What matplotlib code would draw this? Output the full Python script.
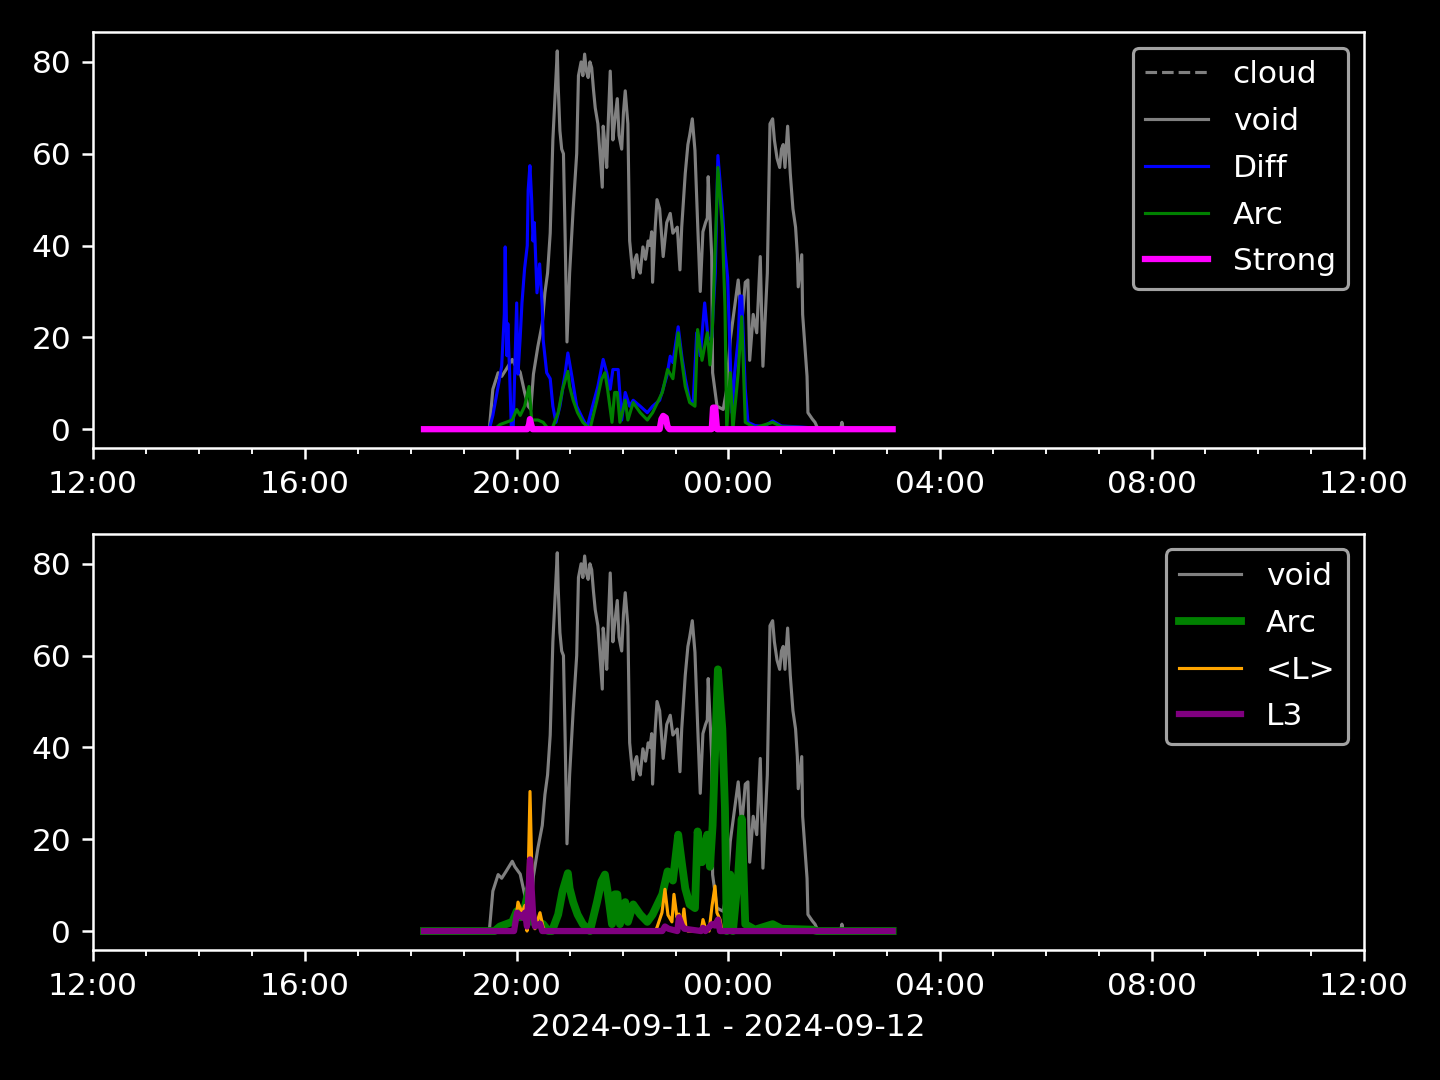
import numpy as np
import pandas as pd
import matplotlib
matplotlib.use('Agg')
import matplotlib.pyplot as plt
import matplotlib.dates as mdates

plt.style.use('dark_background')

t0 = pd.Timestamp('2024-09-11 18:00')
xstart = pd.Timestamp('2024-09-11 12:00')
xend = pd.Timestamp('2024-09-12 12:00')

# all times are minutes after 2024-09-11 18:00
void_t = [15, 89, 93, 99, 103, 108, 115, 118, 124, 129, 133, 136, 139, 144, 149, 152, 155, 158,
          161, 166, 167, 169, 171, 173, 175, 177, 180, 184, 188, 190, 193, 195, 197, 199, 201, 203,
          205, 207, 209, 212, 214, 217, 218, 220, 222, 224, 226, 229, 231, 234, 236, 239, 241, 243,
          246, 248, 252, 254, 256, 258, 260, 263, 266, 269, 271, 273, 274, 277, 279, 282, 286, 290,
          294, 297, 302, 305, 307, 311, 314, 316, 319, 322, 325, 328, 331, 334, 336, 337, 341,
          342, 347, 354, 358, 362, 367, 371, 375, 379, 382, 384, 388, 392, 396, 399, 404, 407,
          410, 412, 415, 418, 420, 422, 424, 427, 430, 433, 436, 438, 439, 443, 444, 449, 450,
          455, 458, 461, 487, 488.5, 490, 546]
void_v = [0, 0, 8.7, 12.3, 11.5, 13, 15.2, 14, 12.4, 8, 5, 4.3, 12, 18, 23, 29.7, 34, 42.7,
          63, 82.4, 75, 65, 61, 60, 41, 19, 34, 48, 60, 77, 80, 77, 81.7, 78, 76.6, 80,
          78.7, 74, 70, 66.5, 61, 52.7, 66, 62, 57, 68, 78, 63, 67, 72, 64, 61, 69, 73.7,
          66.5, 41, 33, 37, 38, 35, 34, 39.7, 37, 41, 40, 43, 32, 44, 50, 48, 37.6, 45,
          47, 42.7, 44, 34.7, 44, 55.7, 62, 64, 67.6, 60.7, 45, 30, 43, 45, 46, 55, 37.6,
          12.3, 5, 4.3, 8.7, 19.5, 26.7, 32.5, 23, 32, 32.5, 15, 25, 21, 37.6, 13.7, 34, 66.5,
          67.6, 63, 59, 57, 61, 62, 57, 66, 55.7, 48, 44, 38, 31, 38, 25, 11.5, 3.6,
          2.2, 1.5, 0.2, 0, 1.5, 0, 0]

diff_t = [15, 89, 93, 99, 103, 106, 107, 109, 110, 112, 114, 116, 120, 121.5, 124, 126, 127,
          129, 132, 133, 135, 137, 138.5, 140, 143, 146, 149, 150, 154, 158, 161, 164.5, 169,
          175, 178, 183, 188, 195, 200, 206, 212, 218, 222, 226, 229, 235, 239, 243, 248, 252,
          260, 268, 274, 282, 290, 294, 297, 303, 307, 311, 316, 320, 324, 328, 333, 337, 341,
          345, 348, 353, 356, 359, 364, 367, 371, 373, 375, 379, 382, 390, 400, 410, 420, 440,
          454, 460, 546]
diff_v = [0, 0, 3, 9.3, 13.7, 25, 39.7, 16, 23, 12.3, 0, 0, 27.5, 12, 20, 27.5, 30,
          35, 40, 52, 57.4, 50, 41, 45, 29.7, 36, 26.7, 19.5, 12.3, 11, 5, 1.5, 5,
          12.3, 16.6, 11, 5, 2.2, 0.5, 5, 9.3, 15.2, 12.3, 8.7, 13, 13, 2, 8, 5, 6.3,
          5, 3.6, 5, 6.3, 11.5, 15.9, 14.5, 22.3, 16, 11, 6.3, 5.8, 21, 16, 27.5, 19.5, 20,
          34, 59.6, 48, 39, 33, 3.6, 12.3, 19.5, 29, 29, 8.7, 1.5, 0.8, 0.6, 1.8, 0.7, 0.5,
          0.3, 0, 0]

arc_t = [15, 95, 101, 115, 120, 124, 129, 134, 137, 144, 150, 156, 160, 167, 172, 178, 180,
         184, 189, 195, 203, 211, 216, 220, 223, 228, 231, 234, 237, 243, 246, 252, 260, 268,
         274, 285, 291, 297, 303, 307, 311, 316, 322, 325, 330, 336, 339, 342, 348, 353, 356,
         358, 362, 365, 371, 375, 379, 390, 410, 420, 455, 460, 546]
arc_v = [0, 0, 1, 2, 4.3, 3, 5, 9.3, 2, 2, 1.5, 0, 0, 3.6, 8.7, 12.6, 9.3,
         6.3, 3.6, 1.5, 0, 6.3, 10.8, 12.3, 8.7, 1.5, 8, 8, 1.5, 6.3, 2, 5.8, 3.6, 2,
         3.6, 8, 13, 11, 21, 15, 9.3, 5.8, 5, 21.7, 15, 21, 14, 23, 57, 44, 26.7,
         0, 12.3, 0, 12.3, 24.5, 1.5, 0.3, 1.5, 0.5, 0.3, 0, 0]

strong_t = [15, 132, 134, 135, 136.5, 138, 282, 284, 286, 289, 291, 293, 341, 342.5, 345, 347, 546]
strong_v = [0, 0, 1, 2.2, 1, 0, 0, 2.2, 2.9, 2.5, 0.5, 0, 0, 4.7, 4.7, 0, 0]

cloud_t = []
cloud_v = []

lmean_t = [15, 116, 118, 121.5, 126, 129.4, 131.7, 135.1, 138.5, 140.7, 146.4, 149.8, 152,
           277, 279, 284.6, 288, 291.4, 295.9, 298.2, 301.6, 303.9, 307.3, 309.5, 311.8, 314,
           329, 331.1, 334, 338, 341.3, 344.7, 346.9, 350.4, 352.6, 546]
lmean_v = [0, 0, 1, 6.3, 4, 5.6, 0, 30.4, 2.6, 0.5, 4, 1, 0,
           0, 0.8, 4, 9.1, 3.5, 2, 8, 3, 3.7, 1, 4.8, 0.7, 0,
           0, 2.5, 0.5, 0, 5.4, 9.8, 4, 2.5, 0, 0]

l3_t = [15, 117, 120.4, 123.7, 127.1, 129.4, 131.7, 135.1, 138.5, 140.7, 146.4, 149,
        285, 288, 292, 302, 303.9, 307.3, 310, 329, 331.1, 334, 341.3, 344.7, 348, 350.4, 546]
l3_v = [0, 0, 4, 3.5, 2.9, 4, 1, 15.6, 4, 1, 1.6, 0,
        0, 1, 0.5, 0, 3, 1.2, 0.5, 0, 0.7, 0, 1.5, 1.2, 2.5, 0, 0]


def to_time(mins):
    return t0 + pd.to_timedelta(mins, unit='m')


fig, (ax1, ax2) = plt.subplots(2, 1, figsize=(6.4, 4.8), dpi=225)
fig.subplots_adjust(left=0.0646, right=0.9472, top=0.9704, bottom=0.1204, hspace=0.206)

ax1.plot(to_time(cloud_t), cloud_v, color='gray', linestyle='--', linewidth=1, label='cloud')
ax1.plot(to_time(void_t), void_v, color='gray', linewidth=1, label='void')
ax1.plot(to_time(diff_t), diff_v, color='blue', linewidth=1, label='Diff')
ax1.plot(to_time(arc_t), arc_v, color='green', linewidth=1, label='Arc')
ax1.plot(to_time(strong_t), strong_v, color='magenta', linewidth=2, label='Strong')
ax1.legend(loc='upper right', labelspacing=0.57)

ax2.plot(to_time(void_t), void_v, color='gray', linewidth=1, label='void')
ax2.plot(to_time(arc_t), arc_v, color='green', linewidth=2.5, label='Arc')
ax2.plot(to_time(lmean_t), lmean_v, color='orange', linewidth=1, label='<L>')
ax2.plot(to_time(l3_t), l3_v, color='purple', linewidth=2, label='L3')
ax2.legend(loc='upper right', labelspacing=0.57)
ax2.set_xlabel('2024-09-11 - 2024-09-12')

for ax in (ax1, ax2):
    ax.set_xlim(xstart, xend)
    ax.xaxis.set_major_locator(mdates.HourLocator(byhour=[0, 4, 8, 12, 16, 20]))
    ax.xaxis.set_minor_locator(mdates.HourLocator())
    ax.xaxis.set_major_formatter(mdates.DateFormatter('%H:%M'))

plt.savefig('out.png', dpi=225)
